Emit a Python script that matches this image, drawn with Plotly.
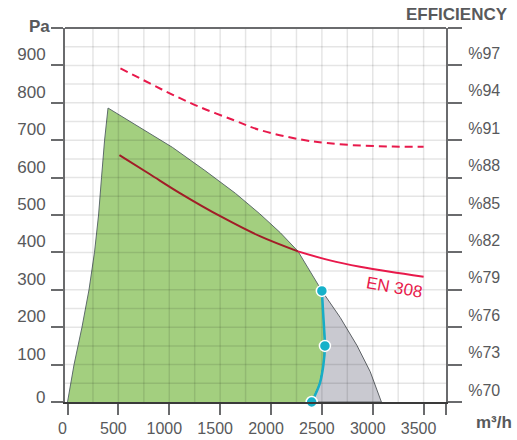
import numpy as np
import plotly.graph_objects as go

# ---------------- data ----------------
x_range = [-25, 3720]
y_range = [0, 1000]
eff_range = [70, 100]

x_ticks = [0, 500, 1000, 1500, 2000, 2500, 3000, 3500]
x_tick_labels = ["0", "500", "1000", "1500", "2000", "2500", "3000", "3500"]
y_ticks = [0, 100, 200, 300, 400, 500, 600, 700, 800, 900, 1000]
y_tick_labels = ["", "100", "200", "300", "400", "500", "600", "700", "800", "900", ""]
eff_ticks = [70, 73, 76, 79, 82, 85, 88, 91, 94, 97, 100]
eff_tick_labels = ["%70", "%73", "%76", "%79", "%82", "%85", "%88", "%91", "%94", "%97", ""]

# green working area: left edge (bottom -> peak)
left_x = [0, 64, 142, 211, 265, 305, 334, 364, 398]
left_y = [0, 100, 200, 300, 400, 500, 600, 700, 786]
# fan envelope from peak down to the upper operating point
env_x = [398, 710, 1030, 1350, 1650, 1890, 2090, 2265, 2500]
env_y = [786, 735, 681, 619, 558, 503, 453, 403, 297]
# fan envelope beyond the operating curve (grey area)
over_x = [2500, 2680, 2845, 2975, 3085]
over_y = [297, 226, 151, 81, 0]
# operating curve (cyan) top -> bottom
op_curve_x = [2500, 2512, 2522, 2530, 2515, 2480, 2400]
op_curve_y = [297, 240, 195, 150, 100, 50, 0]
op_pts_x = [2500, 2530, 2400]
op_pts_y = [297, 150, 0]

# efficiency curves (%)
dash_x = [520, 810, 1030, 1300, 1630, 1890, 2290, 2550, 2880, 3200, 3500]
dash_eff = [96.77, 95.55, 94.66, 93.66, 92.62, 91.82, 91.06, 90.77, 90.57, 90.49, 90.47]
en_x = [510, 810, 1100, 1520, 1890, 2265, 2580, 2875, 3170, 3500]
en_eff = [89.81, 88.27, 86.78, 84.82, 83.30, 82.08, 81.36, 80.85, 80.44, 80.04]
en_split = 2265

# ---------------- figure ----------------
GRID = "rgba(0,0,0,0.10)"
AX = "#6a6b6d"
TXT = "#58595b"
FONT = "Liberation Sans, Arial, Helvetica, sans-serif"
CRIMSON = "#e8194b"

fig = go.Figure()

# green polygon
gx = left_x + env_x[1:] + op_curve_x[1:]
gy = left_y + env_y[1:] + op_curve_y[1:]
fig.add_trace(go.Scatter(x=gx, y=gy, fill="toself", fillcolor="#a3cf7f",
                         line=dict(color="#5e6c6c", width=1), mode="lines",
                         hoverinfo="skip", showlegend=False))
# grey polygon
rx = over_x + op_curve_x[::-1]
ry = over_y + op_curve_y[::-1]
fig.add_trace(go.Scatter(x=rx, y=ry, fill="toself", fillcolor="#c9c9d0",
                         line=dict(color="#5e6266", width=1), mode="lines",
                         hoverinfo="skip", showlegend=False))

# grid lines (drawn above the areas)
grid_x, grid_y = [], []
for v in np.arange(250, 3501, 250):
    grid_x += [v, v, None]
    grid_y += [y_range[0], y_range[1], None]
for v in np.arange(50, 1000, 50):
    grid_x += [x_range[0], x_range[1], None]
    grid_y += [v, v, None]
fig.add_trace(go.Scatter(x=grid_x, y=grid_y, mode="lines",
                         line=dict(color=GRID, width=1.5),
                         hoverinfo="skip", showlegend=False))

# efficiency curves
fig.add_trace(go.Scatter(x=dash_x, y=dash_eff, yaxis="y2", mode="lines",
                         line=dict(color=CRIMSON, width=2, dash="8px,5px", shape="spline"),
                         hoverinfo="skip", showlegend=False))
in_x = [x for x in en_x if x <= en_split]
in_y = [e for x, e in zip(en_x, en_eff) if x <= en_split]
out_x = [x for x in en_x if x >= en_split]
out_y = [e for x, e in zip(en_x, en_eff) if x >= en_split]
fig.add_trace(go.Scatter(x=in_x, y=in_y, yaxis="y2", mode="lines",
                         line=dict(color="#a11d27", width=2, shape="spline"),
                         hoverinfo="skip", showlegend=False))
fig.add_trace(go.Scatter(x=out_x, y=out_y, yaxis="y2", mode="lines",
                         line=dict(color=CRIMSON, width=2, shape="spline"),
                         hoverinfo="skip", showlegend=False))

# operating curve
fig.add_trace(go.Scatter(x=op_curve_x, y=op_curve_y, mode="lines",
                         line=dict(color="#17adc6", width=2.5, shape="spline"),
                         hoverinfo="skip", showlegend=False, cliponaxis=False))
fig.add_trace(go.Scatter(x=op_pts_x, y=op_pts_y, mode="markers",
                         marker=dict(color="#17b1c9", size=11,
                                     line=dict(color="white", width=1.5)),
                         hoverinfo="skip", showlegend=False, cliponaxis=False))

fig.update_layout(
    width=517, height=440, autosize=False,
    margin=dict(l=65, r=71, t=28, b=38, pad=0),
    paper_bgcolor="white", plot_bgcolor="white",
    font=dict(family=FONT, color=TXT),
    xaxis=dict(range=x_range, tickmode="array", automargin=False,
               tickvals=x_ticks + [x_range[1]], ticktext=x_tick_labels + [""],
               ticks="outside", ticklen=11, tickwidth=2, tickcolor=AX,
               showline=True, linecolor="#3a3a3a", linewidth=2,
               showgrid=False, zeroline=False,
               tickfont=dict(size=16, color=TXT), ticklabelshift=-5),
    yaxis=dict(range=y_range, tickmode="array", automargin=False,
               tickvals=y_ticks, ticktext=y_tick_labels,
               ticks="outside", ticklen=12, tickwidth=2, tickcolor=AX,
               showline=True, linecolor=AX, linewidth=2,
               showgrid=False, zeroline=False, ticklabelstandoff=2,
               tickfont=dict(size=17, color=TXT), ticklabelshift=-11),
    yaxis2=dict(range=eff_range, overlaying="y", side="right", anchor="x",
                automargin=False,
                tickmode="array", tickvals=eff_ticks, ticktext=eff_tick_labels,
                ticks="outside", ticklen=14, tickwidth=2, tickcolor=AX,
                showline=True, linecolor=AX, linewidth=2,
                showgrid=False, zeroline=False, ticklabelstandoff=3,
                tickfont=dict(size=16, color=TXT), ticklabelshift=-12),
    shapes=[dict(type="line", xref="paper", yref="paper", x0=0, x1=1, y0=1, y1=1,
                 line=dict(color=AX, width=2), layer="above")],
    annotations=[
        dict(text="<b>Pa</b>", xref="paper", yref="paper", x=-0.034, y=1.005,
             xanchor="right", yanchor="middle", showarrow=False,
             font=dict(size=17, color=TXT)),
        dict(text="0", xref="paper", yref="y", x=-0.047, y=0, yshift=5,
             xanchor="right", yanchor="middle", showarrow=False,
             font=dict(size=17, color=TXT)),
        dict(text="<b>EFFICIENCY</b>", xref="paper", yref="paper", x=1.168, y=1.035,
             xanchor="right", yanchor="middle", showarrow=False,
             font=dict(size=17, color=TXT)),
        dict(text="<b>m³/h</b>", xref="paper", yref="paper", x=1.127, y=-0.056,
             xanchor="center", yanchor="middle", showarrow=False,
             font=dict(size=17, color=TXT)),
        dict(text="EN 308", xref="x", yref="y2", x=3209, y=79.2, textangle=10,
             xanchor="center", yanchor="middle", showarrow=False,
             font=dict(size=17, color=CRIMSON)),
    ],
)

fig.write_html("out.html", config={"displayModeBar": False},
               post_script="document.body.style.margin='0px';document.body.style.overflow='hidden';")
